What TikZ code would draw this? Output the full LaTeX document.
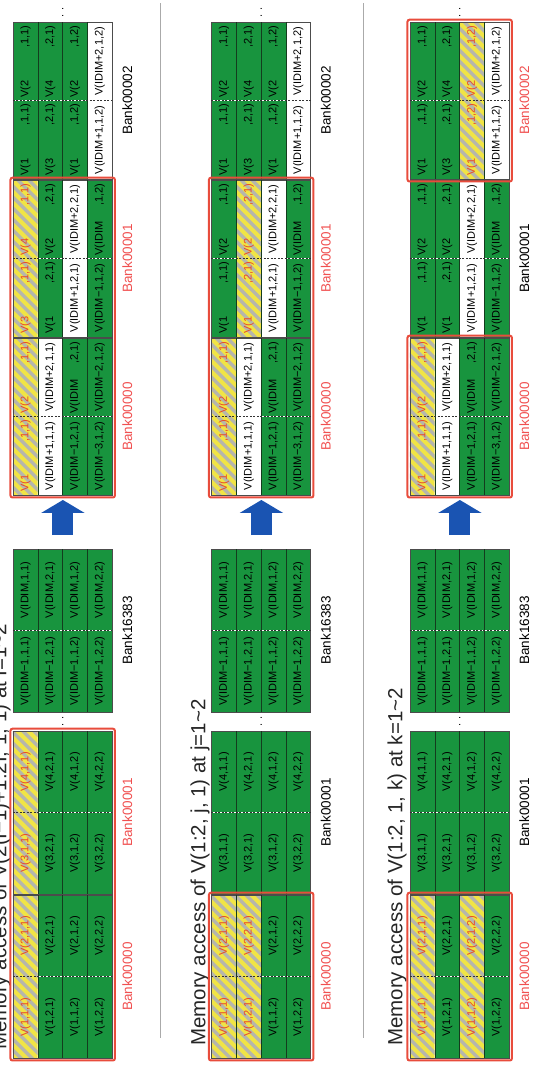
\documentclass[tikz,border=0pt]{standalone}
\usepackage{fontspec}
\setmainfont{Liberation Sans}
\usetikzlibrary{arrows.meta,calc,positioning}
\definecolor{bankgreen}{RGB}{24,148,62}
\definecolor{rowline}{RGB}{20,60,30}
\definecolor{hiyellow}{RGB}{240,228,70}
\definecolor{higrey}{RGB}{182,182,172}
\definecolor{hitext}{RGB}{232,72,40}
\definecolor{boxred}{RGB}{232,76,60}
\definecolor{labred}{RGB}{240,80,80}
\definecolor{arrowblue}{RGB}{26,84,178}
\definecolor{sepgrey}{RGB}{170,170,170}
\tikzset{
cellbase/.style = {inner sep=0pt, minimum width=\cw pt, minimum height=\rowh pt, text width=\tw pt, align=center, font=\fontsize{11}{12}\selectfont},
cellg/.style = {cellbase, fill=bankgreen, text=black},
cellw/.style = {cellbase, fill=white, text=black},
celly/.style = {cellbase, text=hitext},
stripe/.style = {draw=higrey, line width=3.5pt},
blockline/.style = {draw=black!70, line width=0.8pt},
rowsep/.style = {draw=rowline, line width=0.8pt},
colsep/.style = {draw=black!80, line width=0.6pt, dash pattern=on 2pt off 1.5pt},
redbox/.style = {draw=boxred, line width=2pt, rounded corners=2pt},
banklabel/.style = {font=\fontsize{13.5}{16}\selectfont},
title/.style = {font=\fontsize{20.5}{24}\selectfont, anchor=west, inner sep=0pt, text=black!85},
more/.style = {font=\fontsize{11}{12}\selectfont, inner sep=0pt},
bigarrow/.style = {draw=arrowblue, line width=21pt, -{Triangle[width=43pt,length=13pt]}, shorten <=14pt, shorten >=5pt},
sepline/.style = {draw=sepgrey, line width=0.8pt}
}
\def\rowh{24.75}
\newcommand{\bank}[7]{%
  \def\cw{#4}\pgfmathsetmacro{\tw}{#4-6}%
  \foreach \st/\ta/\tb [count=\r] in {#7}{
    \if\st y
      \begin{scope}
        \clip ({#2},{#3-(\r-1)*\rowh}) rectangle ({#2+2*#4},{#3-\r*\rowh});
        \fill[hiyellow] ({#2},{#3-(\r-1)*\rowh}) rectangle ({#2+2*#4},{#3-\r*\rowh});
        \foreach \k in {0,...,18}
          \draw[stripe] ({#2+\k*11-30},{#3-\r*\rowh-2}) -- ++(34,34);
      \end{scope}
    \fi
    \node[cell\st, anchor=north west] (#1-\r-1) at ({#2},{#3-(\r-1)*\rowh}) {\ta};
    \node[cell\st, anchor=north west] (#1-\r-2) at (#1-\r-1.north east) {\tb};
  }
  \draw[blockline] (#1-1-1.north west) rectangle (#1-4-2.south east);
  \foreach \r in {1,2,3}
    \draw[rowsep] (#1-\r-1.south west) -- (#1-\r-2.south east);
  \draw[colsep] (#1-1-1.north east) -- (#1-4-1.south east);
  \coordinate (#1-w) at (#1-2-1.south west);
  \coordinate (#1-e) at (#1-2-2.south east);
  \node[banklabel, text=#6] (#1-lab) at ($(#1-4-1.south east)+(0,-15)$) {#5};
}

\begin{document}
\begin{tikzpicture}[x=1pt, y=1pt, rotate=90, transform shape]
  \useasboundingbox (0,0) rectangle (1068,538);
  \clip (0,0) rectangle (1068,538);

  % I
  \node[title] (t1) at (18,537) {Memory access of V(2(I−1)+1:2I, 1, 1) at I=1\textasciitilde 2};
  \bank{p1-L0}{10}{525}{81}{Bank00000}{labred}{y/{V(1,1,1)}/{V(2,1,1)}, g/{V(1,2,1)}/{V(2,2,1)}, g/{V(1,1,2)}/{V(2,1,2)}, g/{V(1,2,2)}/{V(2,2,2)}}
  \bank{p1-L1}{174}{525}{81}{Bank00001}{labred}{y/{V(3,1,1)}/{V(4,1,1)}, g/{V(3,2,1)}/{V(4,2,1)}, g/{V(3,1,2)}/{V(4,1,2)}, g/{V(3,2,2)}/{V(4,2,2)}}
  \bank{p1-LX}{356}{525}{81}{Bank16383}{black}{g/{V(IDIM−1,1,1)}/{V(IDIM,1,1)}, g/{V(IDIM−1,2,1)}/{V(IDIM,2,1)}, g/{V(IDIM−1,1,2)}/{V(IDIM,1,2)}, g/{V(IDIM−1,2,2)}/{V(IDIM,2,2)}}
  \bank{p1-R0}{573}{525}{78}{Bank00000}{labred}{y/{V(1\hfill,1,1)}/{V(2\hfill,1,1)}, w/{V(IDIM+1,1,1)}/{V(IDIM+2,1,1)}, g/{V(IDIM−1,2,1)}/{V(IDIM\hfill,2,1)}, g/{V(IDIM−3,1,2)}/{V(IDIM−2,1,2)}}
  \bank{p1-R1}{731}{525}{78}{Bank00001}{labred}{y/{V(3\hfill,1,1)}/{V(4\hfill,1,1)}, g/{V(1\hfill,2,1)}/{V(2\hfill,2,1)}, w/{V(IDIM+1,2,1)}/{V(IDIM+2,2,1)}, g/{V(IDIM−1,1,2)}/{V(IDIM\hfill,1,2)}}
  \bank{p1-R2}{889}{525}{78}{Bank00002}{black}{g/{V(1\hfill,1,1)}/{V(2\hfill,1,1)}, g/{V(3\hfill,2,1)}/{V(4\hfill,2,1)}, g/{V(1\hfill,1,2)}/{V(2\hfill,1,2)}, w/{V(IDIM+1,1,2)}/{V(IDIM+2,1,2)}}
  \node[more] (p1-dl) at ($(p1-L1-e)!0.5!(p1-LX-w)$) {.\hspace{4pt}.};
  \node[more] (p1-dr) at ($(p1-R2-e)+(10,0)$) {.\hspace{4pt}.};
  \draw[bigarrow] (p1-LX-e) -- (p1-R0-w);
  \draw[redbox] ($(p1-L0-1-1.north west)+(-2.5,2.5)$) rectangle ($(p1-L1-4-2.south east)+(2.5,-2.5)$);
  \draw[redbox] ($(p1-R0-1-1.north west)+(-2.5,2.5)$) rectangle ($(p1-R1-4-2.south east)+(2.5,-2.5)$);
  \draw[sepline] (30,378) -- (1065,378);

  % j
  \node[title] (t2) at (22,338) {Memory access of V(1:2, j, 1) at j=1\textasciitilde 2};
  \bank{p2-L0}{10}{326.5}{81}{Bank00000}{labred}{y/{V(1,1,1)}/{V(2,1,1)}, y/{V(1,2,1)}/{V(2,2,1)}, g/{V(1,1,2)}/{V(2,1,2)}, g/{V(1,2,2)}/{V(2,2,2)}}
  \bank{p2-L1}{174}{326.5}{81}{Bank00001}{black}{g/{V(3,1,1)}/{V(4,1,1)}, g/{V(3,2,1)}/{V(4,2,1)}, g/{V(3,1,2)}/{V(4,1,2)}, g/{V(3,2,2)}/{V(4,2,2)}}
  \bank{p2-LX}{356}{326.5}{81}{Bank16383}{black}{g/{V(IDIM−1,1,1)}/{V(IDIM,1,1)}, g/{V(IDIM−1,2,1)}/{V(IDIM,2,1)}, g/{V(IDIM−1,1,2)}/{V(IDIM,1,2)}, g/{V(IDIM−1,2,2)}/{V(IDIM,2,2)}}
  \bank{p2-R0}{573}{326.5}{78}{Bank00000}{labred}{y/{V(1\hfill,1,1)}/{V(2\hfill,1,1)}, w/{V(IDIM+1,1,1)}/{V(IDIM+2,1,1)}, g/{V(IDIM−1,2,1)}/{V(IDIM\hfill,2,1)}, g/{V(IDIM−3,1,2)}/{V(IDIM−2,1,2)}}
  \bank{p2-R1}{731}{326.5}{78}{Bank00001}{labred}{g/{V(1\hfill,1,1)}/{V(2\hfill,1,1)}, y/{V(1\hfill,2,1)}/{V(2\hfill,2,1)}, w/{V(IDIM+1,2,1)}/{V(IDIM+2,2,1)}, g/{V(IDIM−1,1,2)}/{V(IDIM\hfill,1,2)}}
  \bank{p2-R2}{889}{326.5}{78}{Bank00002}{black}{g/{V(1\hfill,1,1)}/{V(2\hfill,1,1)}, g/{V(3\hfill,2,1)}/{V(4\hfill,2,1)}, g/{V(1\hfill,1,2)}/{V(2\hfill,1,2)}, w/{V(IDIM+1,1,2)}/{V(IDIM+2,1,2)}}
  \node[more] (p2-dl) at ($(p2-L1-e)!0.5!(p2-LX-w)$) {.\hspace{4pt}.};
  \node[more] (p2-dr) at ($(p2-R2-e)+(10,0)$) {.\hspace{4pt}.};
  \draw[bigarrow] (p2-LX-e) -- (p2-R0-w);
  \draw[redbox] ($(p2-L0-1-1.north west)+(-2.5,2.5)$) rectangle ($(p2-L0-4-2.south east)+(2.5,-2.5)$);
  \draw[redbox] ($(p2-R0-1-1.north west)+(-2.5,2.5)$) rectangle ($(p2-R1-4-2.south east)+(2.5,-2.5)$);
  \draw[sepline] (30,175) -- (1065,175);

  % k
  \node[title] (t3) at (22,141) {Memory access of V(1:2, 1, k) at k=1\textasciitilde 2};
  \bank{p3-L0}{10}{128}{81}{Bank00000}{labred}{y/{V(1,1,1)}/{V(2,1,1)}, g/{V(1,2,1)}/{V(2,2,1)}, y/{V(1,1,2)}/{V(2,1,2)}, g/{V(1,2,2)}/{V(2,2,2)}}
  \bank{p3-L1}{174}{128}{81}{Bank00001}{black}{g/{V(3,1,1)}/{V(4,1,1)}, g/{V(3,2,1)}/{V(4,2,1)}, g/{V(3,1,2)}/{V(4,1,2)}, g/{V(3,2,2)}/{V(4,2,2)}}
  \bank{p3-LX}{356}{128}{81}{Bank16383}{black}{g/{V(IDIM−1,1,1)}/{V(IDIM,1,1)}, g/{V(IDIM−1,2,1)}/{V(IDIM,2,1)}, g/{V(IDIM−1,1,2)}/{V(IDIM,1,2)}, g/{V(IDIM−1,2,2)}/{V(IDIM,2,2)}}
  \bank{p3-R0}{573}{128}{78}{Bank00000}{labred}{y/{V(1\hfill,1,1)}/{V(2\hfill,1,1)}, w/{V(IDIM+1,1,1)}/{V(IDIM+2,1,1)}, g/{V(IDIM−1,2,1)}/{V(IDIM\hfill,2,1)}, g/{V(IDIM−3,1,2)}/{V(IDIM−2,1,2)}}
  \bank{p3-R1}{731}{128}{78}{Bank00001}{black}{g/{V(1\hfill,1,1)}/{V(2\hfill,1,1)}, g/{V(1\hfill,2,1)}/{V(2\hfill,2,1)}, w/{V(IDIM+1,2,1)}/{V(IDIM+2,2,1)}, g/{V(IDIM−1,1,2)}/{V(IDIM\hfill,1,2)}}
  \bank{p3-R2}{889}{128}{78}{Bank00002}{labred}{g/{V(1\hfill,1,1)}/{V(2\hfill,1,1)}, g/{V(3\hfill,2,1)}/{V(4\hfill,2,1)}, y/{V(1\hfill,1,2)}/{V(2\hfill,1,2)}, w/{V(IDIM+1,1,2)}/{V(IDIM+2,1,2)}}
  \node[more] (p3-dl) at ($(p3-L1-e)!0.5!(p3-LX-w)$) {.\hspace{4pt}.};
  \node[more] (p3-dr) at ($(p3-R2-e)+(10,0)$) {.\hspace{4pt}.};
  \draw[bigarrow] (p3-LX-e) -- (p3-R0-w);
  \draw[redbox] ($(p3-L0-1-1.north west)+(-2.5,2.5)$) rectangle ($(p3-L0-4-2.south east)+(2.5,-2.5)$);
  \draw[redbox] ($(p3-R0-1-1.north west)+(-2.5,2.5)$) rectangle ($(p3-R0-4-2.south east)+(2.5,-2.5)$);
  \draw[redbox] ($(p3-R2-1-1.north west)+(-2.5,2.5)$) rectangle ($(p3-R2-4-2.south east)+(2.5,-2.5)$);
\end{tikzpicture}
\end{document}
